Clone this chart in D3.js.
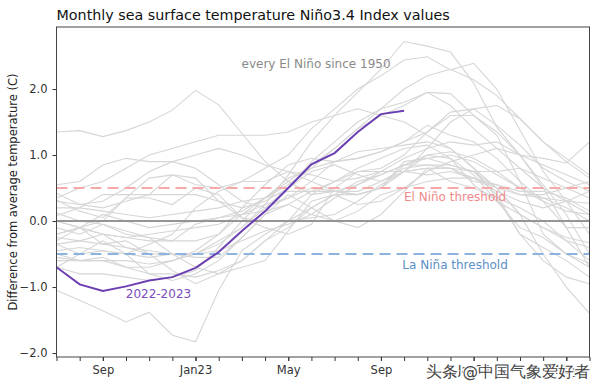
<!DOCTYPE html>
<html>
<head>
<meta charset="utf-8">
<title>Monthly sea surface temperature Niño3.4 Index values</title>
<script src="https://d3js.org/d3.v7.min.js"></script>
<style>
  body { margin: 0; background: #fff; }
  svg text { font-family: "DejaVu Sans", sans-serif; }
</style>
</head>
<body>
<svg width="600" height="386"></svg>
<script>
// months from Jul 2022 to Jun 2024 (24 steps)
var months = ["Jul","Aug","Sep","Oct","Nov","Dec","Jan","Feb","Mar","Apr","May","Jun",
              "Jul","Aug","Sep","Oct","Nov","Dec","Jan","Feb","Mar","Apr","May","Jun"];
var tickMonths = [2, 6, 10, 14, 18, 22];
var tickLabels = ["Sep", "Jan23", "May", "Sep", "Jan24", "May"];
var yTicks = [2, 1, 0, -1, -2];

// 2022-2023 (Jul 2022 - Oct 2023)
var current = [-0.70,-0.96,-1.06,-0.99,-0.90,-0.85,-0.71,-0.47,-0.15,0.15,0.50,0.86,1.03,1.35,1.62,1.67];

// every El Niño since 1950, Jul of the year before to Jun of the year after
var e1951 = [-0.60,-0.60,-0.55,-0.70,-0.80,-0.90,-0.80,-0.60,-0.25,0.10,0.25,0.45,0.60,0.80,0.95,1.10,1.15,0.95,0.55,0.30,0.10,-0.10,-0.25,-0.33];
var e1953 = [-0.35,-0.50,-0.45,-0.50,-0.35,-0.20,0.20,0.45,0.60,0.60,0.75,0.70,0.60,0.65,0.75,0.75,0.80,0.80,0.75,0.40,-0.20,-0.60,-0.85,-0.95];
var e1957 = [-0.55,-0.60,-0.60,-0.60,-0.65,-0.60,-0.45,-0.20,0.20,0.55,0.85,0.95,0.90,0.95,1.05,1.20,1.35,1.65,1.70,1.45,1.15,0.80,0.60,0.45];
var e1963 = [-0.20,-0.10,-0.20,-0.25,-0.30,-0.30,-0.30,-0.20,0.10,0.25,0.35,0.60,0.90,1.05,1.10,1.15,1.20,1.10,0.80,0.35,-0.20,-0.40,-0.60,-0.85];
var e1965 = [-0.50,-0.60,-0.60,-0.70,-0.70,-0.60,-0.50,-0.30,-0.10,0.20,0.50,0.90,1.20,1.50,1.70,1.80,1.95,1.75,1.40,1.10,0.80,0.50,0.30,0.10];
var e1968 = [-0.45,-0.40,-0.45,-0.50,-0.55,-0.50,-0.70,-0.80,-0.70,-0.60,-0.15,0.30,0.40,0.25,0.30,0.50,0.75,0.90,1.00,1.10,1.00,0.85,0.70,0.55];
var e1969 = [0.42,0.25,0.30,0.50,0.75,0.90,1.00,1.10,1.00,0.85,0.75,0.60,0.45,0.40,0.50,0.75,0.80,0.60,0.50,0.35,0.20,0.00,-0.30,-0.60];
var e1972 = [-0.70,-0.80,-0.80,-0.85,-0.90,-0.85,-0.75,-0.40,0.00,0.35,0.60,0.85,1.10,1.40,1.60,1.75,1.95,1.93,1.60,1.30,0.60,-0.20,-0.50,-0.70];
var e1976 = [-1.05,-1.20,-1.36,-1.53,-1.38,-1.73,-1.83,-1.05,-0.45,-0.20,0.00,0.20,0.40,0.60,0.70,0.85,0.85,0.80,0.65,0.45,0.30,0.20,0.30,0.45];
var e1977 = [0.55,0.60,0.85,0.95,0.90,0.90,0.80,0.55,0.30,0.20,0.35,0.50,0.45,0.45,0.60,0.80,0.85,0.85,0.75,0.50,0.10,-0.10,-0.30,-0.40];
var e1979 = [-0.30,-0.10,0.10,0.00,-0.10,-0.05,0.00,0.05,0.10,0.15,0.25,0.10,0.00,0.15,0.40,0.50,0.60,0.65,0.65,0.50,0.40,0.35,0.30,0.27];
var e1982 = [-0.25,-0.30,-0.20,-0.25,-0.20,-0.15,-0.10,-0.05,0.10,0.35,0.65,0.80,1.10,1.40,1.70,2.00,2.20,2.30,2.14,1.90,1.55,1.20,0.95,0.70];
var e1983 = [1.35,1.37,1.28,1.37,1.50,1.68,1.98,1.76,1.33,0.90,0.60,0.40,0.45,0.55,0.70,0.85,0.95,1.00,0.90,0.70,0.50,0.30,0.15,0.10];
var e1986 = [0.00,-0.10,-0.20,-0.40,-0.50,-0.50,-0.50,-0.45,-0.30,-0.15,-0.05,0.10,0.35,0.55,0.75,0.95,1.10,1.20,1.15,1.20,1.00,0.95,0.88,1.20];
var e1987 = [0.35,0.50,0.60,0.80,1.00,1.10,1.20,1.30,1.30,1.30,1.35,1.50,1.60,1.70,1.60,1.50,1.30,1.10,0.80,0.50,0.10,-0.50,-1.00,-1.40];
var e1991 = [0.30,0.25,0.20,0.30,0.40,0.40,0.40,0.30,0.20,0.30,0.50,0.75,0.85,0.70,0.60,0.75,1.10,1.50,1.70,1.75,1.55,1.20,0.90,0.65];
var e1994 = [0.20,0.20,0.15,0.10,0.05,0.10,0.15,0.20,0.30,0.35,0.45,0.45,0.45,0.40,0.50,0.85,1.00,1.05,0.95,0.75,0.50,0.35,0.20,0.00];
var e1997 = [-0.35,-0.30,-0.35,-0.40,-0.45,-0.50,-0.50,-0.35,-0.10,0.25,0.70,1.20,1.60,1.95,2.30,2.72,2.65,2.56,2.09,1.42,1.00,0.55,0.10,-0.50];
var e2002 = [0.12,0.00,-0.05,-0.15,-0.25,-0.30,-0.05,0.05,0.15,0.35,0.55,0.80,0.90,0.95,1.05,1.20,1.45,1.30,1.20,0.95,0.60,0.30,-0.10,-0.10];
var e2004 = [0.32,0.15,0.05,0.35,0.35,0.25,0.50,0.40,0.05,-0.10,-0.20,-0.05,0.50,0.75,0.75,0.75,0.70,0.75,0.65,0.55,0.45,0.45,0.35,0.15];
var e2006 = [0.08,0.20,0.40,0.40,0.40,0.70,0.65,0.30,0.05,0.00,0.00,0.05,0.10,0.30,0.55,0.75,1.00,0.95,0.70,0.30,-0.10,-0.25,-0.50,-0.64];
var e2009 = [-0.70,-0.50,-0.30,-0.50,-0.80,-0.80,-0.85,-0.75,-0.60,-0.30,0.00,0.40,0.60,0.75,0.80,1.00,1.35,1.60,1.60,1.35,1.00,0.50,-0.10,-0.70];
var e2014 = [-0.10,-0.20,-0.05,-0.20,-0.25,-0.50,-0.55,-0.55,-0.25,0.10,0.40,0.20,0.00,-0.10,0.10,0.45,0.80,0.80,0.60,0.55,0.40,0.40,0.50,0.60];
var e2015 = [0.00,-0.10,0.00,0.35,0.65,0.70,0.55,0.50,0.60,0.80,1.00,1.40,1.70,2.00,2.20,2.44,2.49,2.29,2.39,2.00,1.38,0.75,0.30,-0.20];
var e2018 = [-0.20,-0.10,-0.35,-0.30,-0.50,-0.75,-0.95,-0.80,-0.60,-0.30,-0.10,0.20,0.40,0.40,0.50,0.90,0.95,0.85,0.75,0.75,0.80,0.65,0.50,0.35];

var pastEvents = [e1951, e1953, e1957, e1963, e1965, e1968, e1969, e1972, e1976, e1977, e1979, e1982,
                  e1983, e1986, e1987, e1991, e1994, e1997, e2002, e2004, e2006, e2009, e2014, e2015, e2018];

var svg = d3.select("svg"),
    margin = {top: 27, right: 10.5, bottom: 29, left: 56.5},
    width = +svg.attr("width") - margin.left - margin.right,
    height = +svg.attr("height") - margin.top - margin.bottom;

var x = d3.scaleLinear().domain([0, months.length - 1]).range([margin.left, margin.left + width]);
var y = d3.scaleLinear().domain([-2.06, 2.94]).range([margin.top + height, margin.top]);

var line = d3.line()
    .x(function(d, i) { return x(i); })
    .y(function(d) { return y(d); });

// clip to plot area
svg.append("clipPath").attr("id", "plot")
  .append("rect")
    .attr("x", margin.left).attr("y", margin.top)
    .attr("width", width).attr("height", height);

var g = svg.append("g").attr("clip-path", "url(#plot)");

g.selectAll(".past")
  .data(pastEvents)
  .enter().append("path")
    .attr("class", "past")
    .attr("d", line)
    .attr("fill", "none")
    .attr("stroke", "#d6d6d6")
    .attr("stroke-width", 1.1);

// zero line and thresholds
g.append("line")
    .attr("x1", margin.left).attr("x2", margin.left + width)
    .attr("y1", y(0)).attr("y2", y(0))
    .attr("stroke", "#959595").attr("stroke-width", 2);

g.append("line")
    .attr("x1", margin.left).attr("x2", margin.left + width)
    .attr("y1", y(0.5)).attr("y2", y(0.5))
    .attr("stroke", "#f5a9a9").attr("stroke-width", 2)
    .attr("stroke-dasharray", "11,6");

g.append("line")
    .attr("x1", margin.left).attr("x2", margin.left + width)
    .attr("y1", y(-0.5)).attr("y2", y(-0.5))
    .attr("stroke", "#8db4de").attr("stroke-width", 2)
    .attr("stroke-dasharray", "11,6");

g.append("path")
    .datum(current)
    .attr("d", line)
    .attr("fill", "none")
    .attr("stroke", "#6c3fb2")
    .attr("stroke-width", 2);

// text annotations
svg.append("text")
    .attr("x", x(11.2)).attr("y", y(2.32))
    .attr("text-anchor", "middle")
    .attr("font-size", 12).attr("fill", "#8a8a8a")
    .text("every El Niño since 1950");

svg.append("text")
    .attr("x", x(17.2)).attr("y", y(0.3))
    .attr("text-anchor", "middle")
    .attr("font-size", 12).attr("fill", "#f08a8a")
    .text("El Niño threshold");

svg.append("text")
    .attr("x", x(17.2)).attr("y", y(-0.72))
    .attr("text-anchor", "middle")
    .attr("font-size", 12).attr("fill", "#5a8fc8")
    .text("La Niña threshold");

svg.append("text")
    .attr("x", x(4.4)).attr("y", y(-1.17))
    .attr("text-anchor", "middle")
    .attr("font-size", 12).attr("fill", "#7b4cc0")
    .text("2022-2023");

// axes
var xAxis = svg.append("g")
    .attr("transform", "translate(0," + (margin.top + height) + ")")
    .call(d3.axisBottom(x).tickValues(d3.range(0, 24)).tickSize(4).tickFormat(""));
xAxis.select(".domain").remove();
xAxis.selectAll(".tick line").attr("stroke", "#333");

var xLab = svg.append("g")
    .attr("transform", "translate(0," + (margin.top + height) + ")")
    .call(d3.axisBottom(x).tickValues(tickMonths).tickSize(4).tickPadding(5)
      .tickFormat(function(d, i) { return tickLabels[i]; }));
xLab.select(".domain").remove();
xLab.selectAll(".tick line").attr("stroke", "#333");
xLab.selectAll("text").attr("font-size", 11.5).attr("fill", "#333").attr("font-family", "DejaVu Sans, sans-serif");

var yAxis = svg.append("g")
    .attr("transform", "translate(" + margin.left + ",0)")
    .call(d3.axisLeft(y).tickValues(yTicks).tickSize(4).tickPadding(5).tickFormat(d3.format(".1f")));
yAxis.select(".domain").remove();
yAxis.selectAll(".tick line").attr("stroke", "#333");
yAxis.selectAll("text").attr("font-size", 11.5).attr("fill", "#333").attr("font-family", "DejaVu Sans, sans-serif");

// frame
svg.append("rect")
    .attr("x", margin.left).attr("y", margin.top)
    .attr("width", width).attr("height", height)
    .attr("fill", "none").attr("stroke", "#444").attr("stroke-width", 1);

// title and y label
svg.append("text")
    .attr("x", margin.left).attr("y", 20)
    .attr("font-size", 14.3).attr("fill", "#111")
    .text("Monthly sea surface temperature Niño3.4 Index values");

svg.append("text")
    .attr("transform", "translate(17," + (margin.top + height / 2) + ") rotate(-90)")
    .attr("text-anchor", "middle")
    .attr("font-size", 11.5).attr("fill", "#222")
    .text("Difference from average temperature (C)");

// watermark
svg.append("text")
    .attr("x", 590).attr("y", 377)
    .attr("text-anchor", "end")
    .attr("font-family", "Noto Sans CJK SC, sans-serif")
    .attr("font-size", 15.5)
    .attr("fill", "#444")
    .attr("stroke", "#fff").attr("stroke-width", 2.5).attr("paint-order", "stroke")
    .text("头条 @中国气象爱好者");
</script>
</body>
</html>
